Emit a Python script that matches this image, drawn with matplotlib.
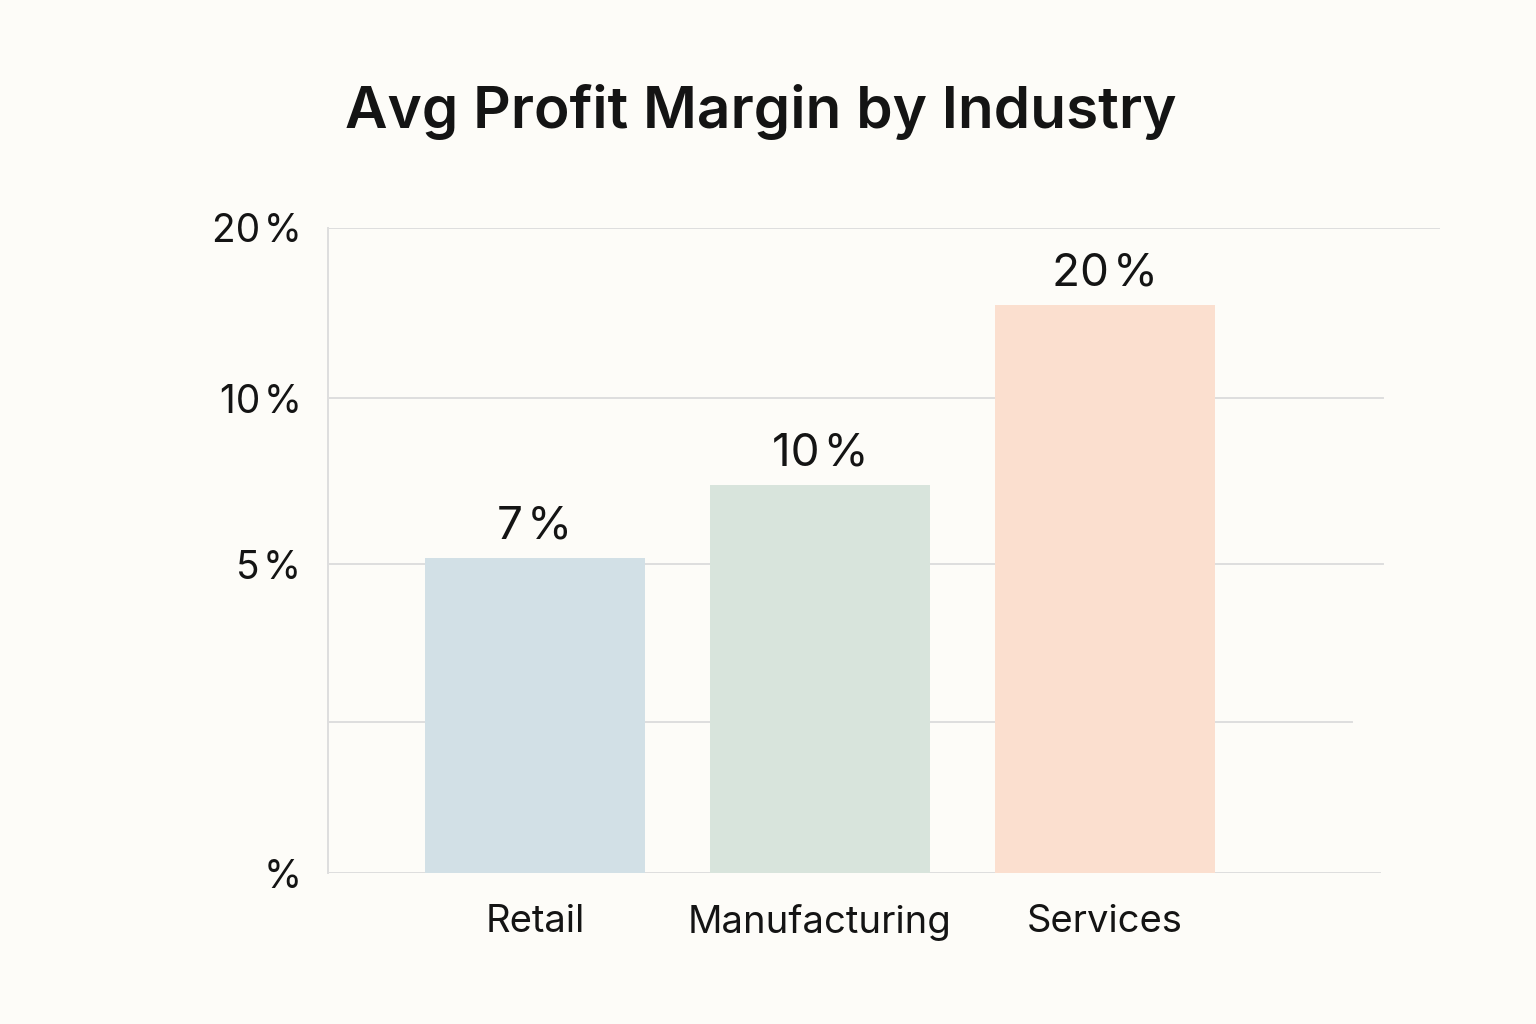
import matplotlib
matplotlib.use("Agg")
import matplotlib.pyplot as plt

# data
industries = ["Retail", "Manufacturing", "Services"]
margin_labels = ["7\u200a%", "10\u200a%", "20\u200a%"]
# bar heights as drawn, in percent of the axis height
bar_heights = [48.8, 60.2, 88.1]
# y axis as drawn: tick positions (percent of axis height) and their labels
ytick_pos = [0, 23.4, 47.9, 73.6, 100]
ytick_labels = ["%", "", "5\u200a%", "10\u200a%", "20\u200a%"]
# how far each gridline runs to the right (fraction of axes width)
grid_ends = [0.946, 0.921, 0.949, 0.949, 1.0]

bar_colors = ["#d2e0e6", "#d8e4dc", "#fbdfcf"]
bg = "#fdfcf8"
grid_col = "#dedede"
text_col = "#141414"

plt.rcParams["font.family"] = ["Inter", "DejaVu Sans"]

fig = plt.figure(figsize=(15.36, 10.24), dpi=100, facecolor=bg)
ax = fig.add_axes([328 / 1536, 1 - 873 / 1024, (1440 - 328) / 1536, 645 / 1024])
ax.set_facecolor(bg)

x = list(range(len(industries)))
ax.bar(x, bar_heights, width=0.772, color=bar_colors, zorder=2)

for y, xe in zip(ytick_pos, grid_ends):
    ax.axhline(y, xmin=0, xmax=xe, color=grid_col, lw=1.4, zorder=1)

for xi, h, lab in zip(x, bar_heights, margin_labels):
    ax.annotate(lab, (xi, h), xytext=(0, 14), textcoords="offset points",
                ha="center", va="baseline", fontsize=33, color=text_col)

ax.set_xlim(-0.726, 3.176)
ax.set_ylim(0, 100)
ax.set_xticks(x)
ax.set_xticklabels(industries, fontsize=27.5, color=text_col)
ax.set_yticks(ytick_pos)
ax.set_yticklabels(ytick_labels, fontsize=28, color=text_col)
ax.tick_params(axis="both", length=0)
ax.tick_params(axis="x", pad=22)
ax.tick_params(axis="y", pad=19)

for s in ["top", "right", "bottom"]:
    ax.spines[s].set_visible(False)
ax.spines["left"].set_color(grid_col)
ax.spines["left"].set_linewidth(1.4)

fig.text(345 / 1536, 1 - 128 / 1024, "Avg Profit Margin by Industry",
         fontsize=42.1, fontweight=600, color=text_col, ha="left", va="baseline")

fig.savefig("out.png", dpi=100, facecolor=bg)
